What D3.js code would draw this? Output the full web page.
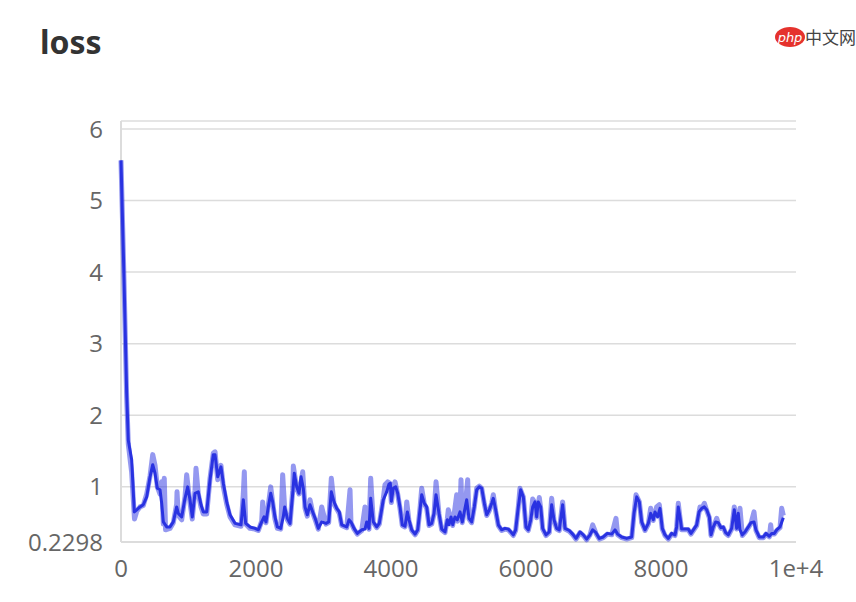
<!DOCTYPE html>
<html>
<head>
<meta charset="utf-8">
<script src="https://cdn.jsdelivr.net/npm/d3@7"></script>
<style>
    body { margin: 0; background: #fff; }
    svg { display: block; }
    .tick-label { font-family: "Open Sans", "Noto Sans", sans-serif; font-size: 24px; fill: #666; }
</style>
</head>
<body>
<svg id="chart"></svg>
<script>
// step / loss values (smoothed line)
var smoothSteps = [0, 44, 84, 108, 158, 197, 233, 281, 330, 381, 430, 470, 504, 538, 578, 603, 627, 677, 726, 775,
    825, 849, 899, 948, 988, 1022, 1056, 1096, 1145, 1185, 1219, 1270, 1319, 1367, 1393, 1433, 1481, 1516, 1566, 1615,
    1689, 1778, 1812, 1847, 1911, 1985, 2034, 2084, 2119, 2148, 2182, 2218, 2247, 2281, 2316, 2366, 2404, 2425, 2464, 2504,
    2544, 2567, 2603, 2637, 2667, 2701, 2726, 2760, 2800, 2840, 2884, 2923, 2973, 3037, 3077, 3116, 3156, 3196, 3234, 3270,
    3344, 3378, 3407, 3452, 3501, 3566, 3615, 3640, 3674, 3699, 3738, 3788, 3827, 3886, 3936, 3970, 3990, 4005, 4034, 4070,
    4099, 4133, 4167, 4207, 4242, 4267, 4307, 4356, 4396, 4430, 4455, 4494, 4529, 4563, 4603, 4637, 4667, 4711, 4751, 4800,
    4834, 4859, 4889, 4914, 4948, 4982, 5022, 5056, 5096, 5121, 5156, 5195, 5234, 5270, 5308, 5344, 5383, 5418, 5457, 5492,
    5516, 5551, 5590, 5640, 5689, 5738, 5778, 5812, 5847, 5886, 5921, 5960, 5970, 6000, 6034, 6070, 6099, 6133, 6158, 6182,
    6218, 6247, 6296, 6345, 6380, 6415, 6454, 6493, 6543, 6578, 6641, 6692, 6741, 6800, 6849, 6899, 6948, 6988, 7037, 7086,
    7145, 7205, 7270, 7319, 7358, 7418, 7492, 7566, 7600, 7640, 7679, 7714, 7763, 7812, 7847, 7886, 7911, 7951, 7985, 8019,
    8059, 8108, 8158, 8207, 8232, 8256, 8281, 8306, 8356, 8405, 8444, 8494, 8529, 8563, 8603, 8642, 8677, 8716, 8741, 8775,
    8810, 8849, 8889, 8923, 8958, 8997, 9047, 9086, 9121, 9145, 9170, 9205, 9244, 9293, 9333, 9378, 9407, 9456, 9516, 9556,
    9605, 9640, 9679, 9714, 9763, 9812];
var smoothLoss = [5.56, 3.93, 2.31, 1.65, 1.38, 0.65, 0.68, 0.72, 0.75, 0.86, 1.14, 1.31, 1.19, 0.98, 0.96, 0.77, 0.51, 0.44, 0.44, 0.51,
    0.72, 0.63, 0.58, 0.84, 1.00, 0.82, 0.58, 0.91, 0.93, 0.75, 0.65, 0.65, 1.10, 1.45, 1.45, 1.14, 1.28, 1.05, 0.79, 0.61,
    0.49, 0.47, 0.82, 0.49, 0.44, 0.42, 0.40, 0.51, 0.58, 0.51, 0.72, 0.91, 0.79, 0.58, 0.44, 0.42, 0.58, 0.72, 0.56, 0.49,
    0.91, 1.19, 1.00, 0.91, 1.14, 0.98, 0.72, 0.61, 0.75, 0.65, 0.54, 0.42, 0.51, 0.49, 0.51, 0.93, 0.79, 0.70, 0.65, 0.47,
    0.44, 0.54, 0.51, 0.42, 0.35, 0.40, 0.41, 0.51, 0.42, 0.84, 0.51, 0.44, 0.49, 0.82, 0.93, 1.04, 1.05, 0.80, 0.98, 1.00,
    0.91, 0.72, 0.47, 0.45, 0.65, 0.54, 0.40, 0.34, 0.40, 0.68, 0.89, 0.77, 0.72, 0.47, 0.49, 0.63, 0.89, 0.63, 0.41, 0.37,
    0.54, 0.47, 0.58, 0.47, 0.58, 0.54, 0.65, 0.51, 0.70, 0.82, 0.56, 0.51, 0.72, 0.96, 1.00, 0.98, 0.77, 0.61, 0.68, 0.77,
    0.84, 0.68, 0.47, 0.40, 0.42, 0.41, 0.37, 0.33, 0.40, 0.72, 0.96, 0.86, 0.77, 0.44, 0.40, 0.54, 0.72, 0.79, 0.58, 0.79,
    0.72, 0.42, 0.33, 0.37, 0.75, 0.54, 0.42, 0.40, 0.75, 0.42, 0.39, 0.34, 0.28, 0.37, 0.33, 0.27, 0.33, 0.40, 0.36, 0.28,
    0.30, 0.35, 0.34, 0.40, 0.34, 0.30, 0.28, 0.30, 0.63, 0.86, 0.79, 0.51, 0.40, 0.49, 0.63, 0.54, 0.65, 0.58, 0.70, 0.42,
    0.33, 0.28, 0.35, 0.33, 0.44, 0.72, 0.58, 0.41, 0.41, 0.41, 0.35, 0.42, 0.47, 0.65, 0.70, 0.72, 0.68, 0.58, 0.33, 0.44,
    0.51, 0.50, 0.43, 0.44, 0.36, 0.33, 0.42, 0.68, 0.42, 0.63, 0.40, 0.33, 0.37, 0.44, 0.50, 0.51, 0.40, 0.30, 0.30, 0.35,
    0.31, 0.35, 0.35, 0.40, 0.44, 0.57];

// raw values (lighter line), spikier than the smoothed one
var rawSteps = [0, 44, 84, 108, 158, 200, 233, 281, 330, 381, 430, 470, 504, 538, 578, 603, 627, 641, 660, 726,
    775, 825, 830, 849, 899, 948, 973, 1000, 1022, 1056, 1096, 1111, 1145, 1185, 1219, 1270, 1319, 1367, 1393, 1433,
    1481, 1516, 1566, 1615, 1689, 1778, 1812, 1827, 1847, 1911, 1985, 2034, 2084, 2099, 2119, 2148, 2182, 2218, 2247, 2281,
    2316, 2366, 2395, 2425, 2464, 2504, 2544, 2553, 2603, 2637, 2692, 2726, 2760, 2800, 2840, 2884, 2923, 2973, 3037, 3077,
    3116, 3156, 3196, 3234, 3270, 3344, 3393, 3407, 3452, 3501, 3566, 3615, 3640, 3674, 3699, 3738, 3788, 3827, 3886, 3911,
    3951, 3985, 4005, 4034, 4059, 4099, 4133, 4167, 4207, 4233, 4267, 4307, 4356, 4396, 4430, 4455, 4494, 4529, 4563, 4603,
    4637, 4667, 4711, 4751, 4800, 4834, 4849, 4889, 4914, 4973, 4982, 5022, 5037, 5056, 5096, 5136, 5156, 5195, 5234, 5270,
    5308, 5344, 5383, 5418, 5457, 5492, 5516, 5551, 5590, 5640, 5689, 5738, 5778, 5812, 5847, 5886, 5911, 5960, 5970, 6000,
    6034, 6070, 6099, 6133, 6158, 6197, 6218, 6247, 6296, 6345, 6380, 6415, 6454, 6493, 6543, 6578, 6641, 6692, 6741, 6800,
    6849, 6899, 6948, 6988, 7037, 7086, 7145, 7205, 7270, 7333, 7358, 7418, 7492, 7566, 7600, 7630, 7679, 7714, 7763, 7812,
    7847, 7886, 7936, 7975, 8019, 8059, 8108, 8158, 8207, 8232, 8256, 8281, 8306, 8356, 8405, 8444, 8494, 8529, 8578, 8603,
    8642, 8677, 8716, 8741, 8775, 8825, 8849, 8889, 8923, 8958, 8997, 9047, 9086, 9121, 9170, 9205, 9244, 9293, 9333, 9378,
    9407, 9456, 9516, 9556, 9605, 9625, 9640, 9679, 9714, 9763, 9788, 9812];
var rawLoss = [5.56, 3.90, 2.25, 1.60, 1.20, 0.55, 0.66, 0.72, 0.74, 0.90, 1.15, 1.45, 1.30, 1.00, 0.90, 1.07, 0.48, 1.12, 0.40, 0.42,
    0.50, 0.76, 0.93, 0.60, 0.54, 0.86, 1.17, 0.95, 0.78, 0.55, 0.95, 1.26, 0.90, 0.72, 0.62, 0.62, 1.12, 1.47, 1.49, 1.10,
    1.30, 1.00, 0.76, 0.58, 0.47, 0.45, 0.90, 1.21, 0.48, 0.42, 0.41, 0.39, 0.52, 0.79, 0.56, 0.50, 0.74, 1.00, 0.78, 0.55,
    0.42, 0.41, 1.17, 0.70, 0.54, 0.48, 0.95, 1.29, 0.98, 0.90, 1.21, 0.70, 0.59, 0.82, 0.64, 0.52, 0.41, 0.72, 0.48, 0.50,
    1.12, 0.76, 0.69, 0.63, 0.46, 0.43, 0.96, 0.50, 0.41, 0.34, 0.39, 0.72, 0.50, 0.41, 1.12, 0.50, 0.43, 0.48, 0.84, 1.03,
    1.07, 1.05, 0.78, 0.98, 1.07, 0.90, 0.70, 0.46, 0.44, 0.79, 0.52, 0.39, 0.33, 0.39, 0.70, 0.98, 0.76, 0.70, 0.46, 0.48,
    0.62, 1.07, 0.62, 0.40, 0.36, 0.55, 0.68, 0.56, 0.46, 0.89, 0.52, 0.64, 1.10, 0.50, 0.70, 1.10, 0.55, 0.50, 0.72, 0.98,
    1.01, 0.98, 0.76, 0.60, 0.67, 0.77, 0.89, 0.66, 0.46, 0.39, 0.41, 0.40, 0.36, 0.32, 0.39, 0.72, 0.98, 0.86, 0.76, 0.43,
    0.39, 0.53, 0.83, 0.78, 0.57, 0.85, 0.70, 0.41, 0.32, 0.36, 0.84, 0.53, 0.41, 0.39, 0.79, 0.41, 0.38, 0.33, 0.27, 0.36,
    0.32, 0.26, 0.33, 0.47, 0.35, 0.27, 0.29, 0.34, 0.33, 0.56, 0.33, 0.29, 0.27, 0.29, 0.62, 0.89, 0.79, 0.50, 0.39, 0.48,
    0.70, 0.53, 0.72, 0.75, 0.41, 0.32, 0.27, 0.34, 0.32, 0.43, 0.77, 0.57, 0.40, 0.40, 0.40, 0.34, 0.41, 0.46, 0.72, 0.69,
    0.77, 0.67, 0.57, 0.32, 0.43, 0.56, 0.49, 0.42, 0.43, 0.35, 0.32, 0.41, 0.72, 0.41, 0.70, 0.32, 0.36, 0.43, 0.49, 0.65,
    0.39, 0.29, 0.29, 0.34, 0.30, 0.47, 0.34, 0.34, 0.39, 0.43, 0.70, 0.60];

var yTicks = [1, 2, 3, 4, 5, 6];
var xTicks = [0, 2000, 4000, 6000, 8000, 10000];
var xTickLabels = ["0", "2000", "4000", "6000", "8000", "1e+4"];
var yMin = 0.2298;
var yMax = 6.11;
var lineColor = "#2932e1";

var width = 856, height = 602;
var margin = {top: 121, right: 60, bottom: 60, left: 121};

var svg = d3.select("#chart")
    .attr("width", width)
    .attr("height", height);

var x = d3.scaleLinear()
    .domain([0, 10000])
    .range([margin.left, width - margin.right]);

var y = d3.scaleLinear()
    .domain([yMin, yMax])
    .range([height - margin.bottom, margin.top]);

// title
svg.append("text")
    .attr("x", 40)
    .attr("y", 54)
    .style("font-family", "'Noto Sans', 'Open Sans', sans-serif")
    .style("font-weight", "bold")
    .style("font-size", "32px")
    .style("fill", "#333")
    .text("loss");

// watermark
var wm = svg.append("g").attr("transform", "translate(790,37)");
wm.append("ellipse")
    .attr("rx", 15).attr("ry", 10)
    .attr("fill", "#e5322d");
wm.append("text")
    .attr("y", 5)
    .attr("text-anchor", "middle")
    .style("font-family", "'DejaVu Sans', sans-serif")
    .style("font-style", "italic")
    .style("font-size", "13px")
    .style("fill", "#fff")
    .text("php");
wm.append("text")
    .attr("x", 15)
    .attr("y", 7)
    .style("font-family", "'Noto Sans CJK SC', sans-serif")
    .style("font-size", "17px")
    .style("fill", "#444")
    .text("中文网");

// grid lines
svg.append("g")
    .selectAll("line")
    .data(yTicks.concat([yMax]))
    .enter()
    .append("line")
    .attr("x1", x(0))
    .attr("x2", x(10000))
    .attr("y1", function(d) { return y(d); })
    .attr("y2", function(d) { return y(d); })
    .attr("stroke", "#dcdcdc")
    .attr("stroke-width", 1.5);

// axis lines
svg.append("line")
    .attr("x1", x(0)).attr("x2", x(0))
    .attr("y1", y(yMax)).attr("y2", y(yMin))
    .attr("stroke", "#dcdcdc")
    .attr("stroke-width", 2);
svg.append("line")
    .attr("x1", x(0)).attr("x2", x(10000))
    .attr("y1", y(yMin)).attr("y2", y(yMin))
    .attr("stroke", "#dcdcdc")
    .attr("stroke-width", 2);

// y labels
svg.append("g")
    .selectAll("text")
    .data([yMin].concat(yTicks))
    .enter()
    .append("text")
    .attr("class", "tick-label")
    .attr("x", 103)
    .attr("y", function(d) { return y(d); })
    .attr("dy", "0.36em")
    .attr("text-anchor", "end")
    .text(function(d) { return d == yMin ? "0.2298" : d; });

// x labels
svg.append("g")
    .selectAll("text")
    .data(xTicks)
    .enter()
    .append("text")
    .attr("class", "tick-label")
    .attr("x", function(d) { return x(d); })
    .attr("y", 568)
    .attr("dy", "0.36em")
    .attr("text-anchor", "middle")
    .text(function(d, i) { return xTickLabels[i]; });

var line = d3.line()
    .x(function(d) { return x(d[0]); })
    .y(function(d) { return y(d[1]); });

var rawData = d3.zip(rawSteps, rawLoss);
var smoothData = d3.zip(smoothSteps, smoothLoss);

svg.append("path")
    .datum(rawData)
    .attr("d", line)
    .attr("fill", "none")
    .attr("stroke", lineColor)
    .attr("stroke-opacity", 0.5)
    .attr("stroke-width", 5)
    .attr("stroke-linejoin", "round");

svg.append("path")
    .datum(smoothData)
    .attr("d", line)
    .attr("fill", "none")
    .attr("stroke", lineColor)
    .attr("stroke-width", 3)
    .attr("stroke-linejoin", "round");
</script>
</body>
</html>
